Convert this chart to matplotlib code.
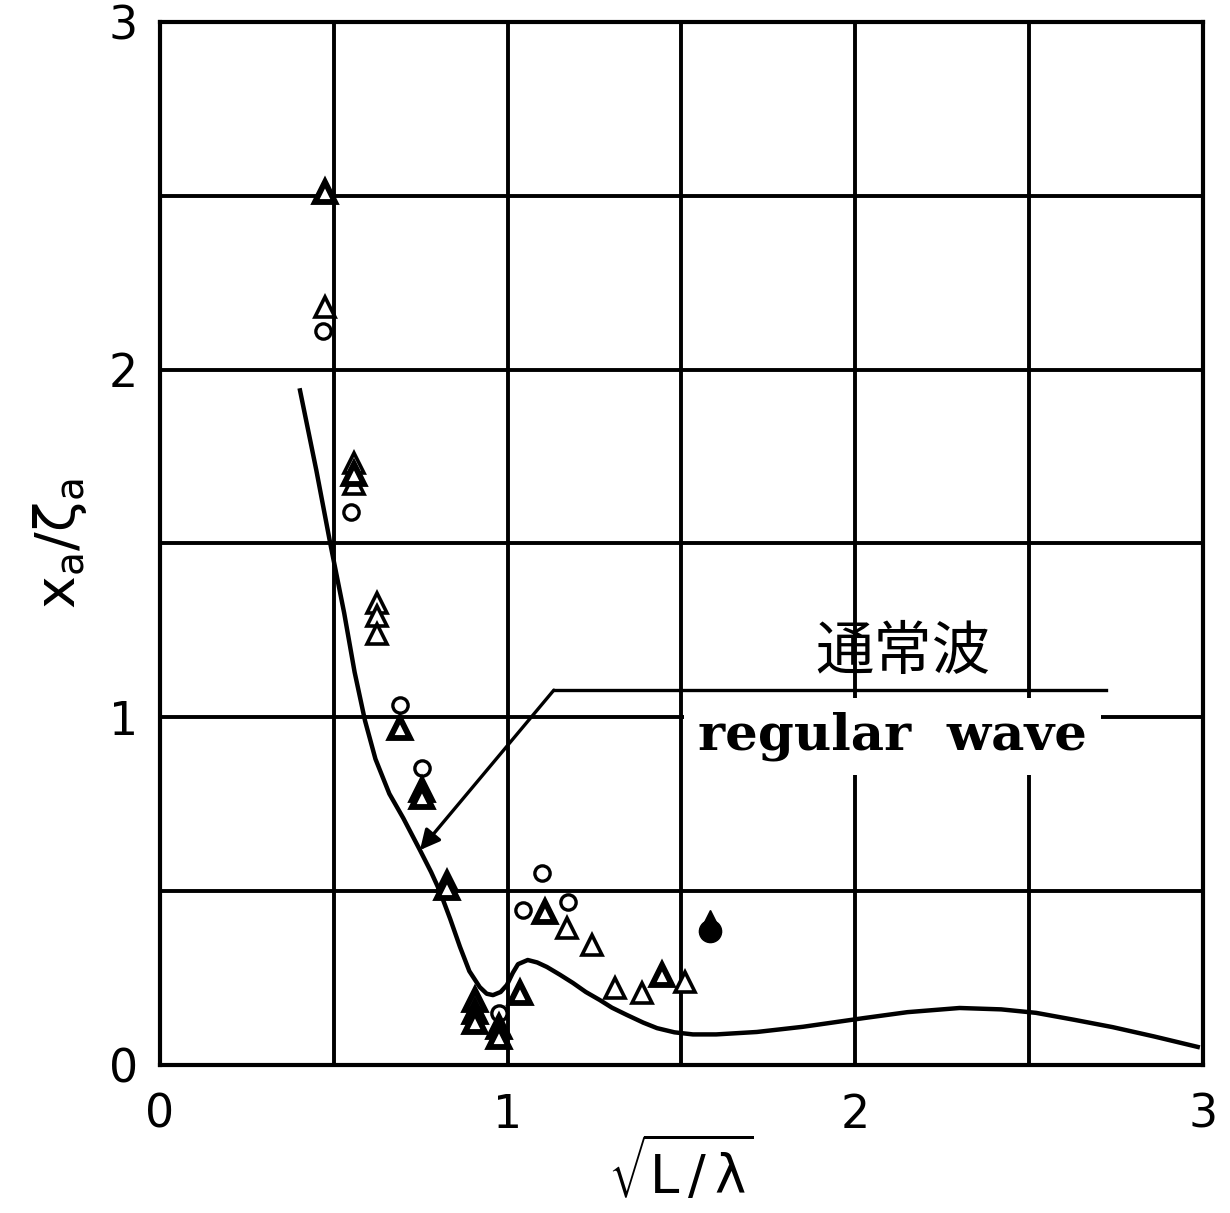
import matplotlib
matplotlib.use("Agg")
import matplotlib.pyplot as plt

# regular wave response curve
curve_x = [0.403, 0.45, 0.49, 0.53, 0.56, 0.59, 0.62, 0.66, 0.70, 0.748, 0.78, 0.805,
           0.835, 0.863, 0.89, 0.92, 0.94, 0.958, 0.98, 0.998, 1.015, 1.03, 1.058,
           1.085, 1.113, 1.15, 1.188, 1.225, 1.265, 1.30, 1.343, 1.39, 1.43, 1.48,
           1.533, 1.60, 1.717, 1.85, 2.025, 2.15, 2.30, 2.42, 2.52, 2.63, 2.74,
           2.86, 2.985]
curve_y = [1.94, 1.71, 1.50, 1.30, 1.13, 0.99, 0.88, 0.78, 0.71, 0.618, 0.555, 0.50,
           0.42, 0.34, 0.27, 0.224, 0.205, 0.201, 0.21, 0.23, 0.265, 0.29, 0.302,
           0.295, 0.282, 0.26, 0.236, 0.21, 0.187, 0.165, 0.144, 0.122, 0.106, 0.094,
           0.088, 0.088, 0.095, 0.11, 0.135, 0.152, 0.164, 0.16, 0.15, 0.13, 0.109,
           0.082, 0.052]

# measured points
circle_x = [0.47, 0.55, 0.69, 0.754, 0.975, 1.045, 1.10, 1.173]
circle_y = [2.11, 1.59, 1.035, 0.854, 0.15, 0.446, 0.552, 0.469]

tri_open_x = [0.475, 0.558, 0.558, 0.624, 0.624, 0.624, 0.825, 1.17, 1.242, 1.309, 1.386, 1.51]
tri_open_y = [2.18, 1.73, 1.67, 1.33, 1.29, 1.24, 0.53, 0.394, 0.345, 0.221, 0.207, 0.239]

tri_heavy_x = [0.475, 0.558, 0.69, 0.754, 0.754, 0.825, 0.906, 0.906, 0.906,
               0.975, 0.975, 1.035, 1.107, 1.444]
tri_heavy_y = [2.51, 1.70, 0.97, 0.79, 0.77, 0.51, 0.187, 0.152, 0.124,
               0.11, 0.08, 0.207, 0.44, 0.259]

solid_circle_x = [1.582]
solid_circle_y = [0.385]
solid_tri_x = [1.582]
solid_tri_y = [0.415]

x_ticks = [0, 1, 2, 3]
y_ticks = [0, 1, 2, 3]
grid_lines = [0.5, 1.0, 1.5, 2.0, 2.5]

plt.rcParams["mathtext.fontset"] = "dejavusans"

fig = plt.figure(figsize=(12.3, 12.13), dpi=100)
ax = fig.add_axes([0.130, 0.122, 0.848, 0.860])

for g in grid_lines:
    ax.axvline(g, color="black", lw=2.8, zorder=1)
    ax.axhline(g, color="black", lw=2.8, zorder=1)

ax.plot(curve_x, curve_y, color="black", lw=3.2, zorder=3)

ax.plot(circle_x, circle_y, "o", ms=11, mfc="white", mec="black", mew=2.4, zorder=4)
ax.plot(tri_open_x, tri_open_y, "^", ms=14, mfc="white", mec="black", mew=2.6, zorder=4)
ax.plot(tri_heavy_x, tri_heavy_y, "^", ms=14, mfc="white", mec="black", mew=4.2, zorder=4)
ax.plot(solid_circle_x, solid_circle_y, "o", ms=16, color="black", zorder=4)
ax.plot(solid_tri_x, solid_tri_y, "^", ms=16, color="black", zorder=4)

ax.set_xlim(0, 3)
ax.set_ylim(0, 3)
ax.set_xticks(x_ticks)
ax.set_yticks(y_ticks)
ax.tick_params(length=0, labelsize=33, pad=16)
ax.tick_params(axis="x", pad=20)
for s in ax.spines.values():
    s.set_linewidth(3.0)

ax.set_xlabel(r"$\sqrt{\mathrm{L\,/\,\lambda}}$", fontsize=38, labelpad=-2)
ax.set_ylabel(r"$\mathrm{x_a/\zeta_a}$", fontsize=40, labelpad=14)

ax.text(2.137, 1.185, "通常波", fontsize=42, family=["Noto Sans CJK JP", "DejaVu Sans"],
        ha="center", va="center", zorder=6)
ax.text(2.108, 0.945, "regular  wave", fontsize=37, fontweight="bold",
        family=["DejaVu Serif"], ha="center", va="center", zorder=6,
        bbox=dict(facecolor="white", edgecolor="none", pad=10))

# leader line with arrow to the curve
ax.plot([1.133, 2.72], [1.078, 1.078], color="black", lw=2.4, zorder=7)
ax.annotate("", xy=(0.748, 0.618), xytext=(1.133, 1.078),
            arrowprops=dict(arrowstyle="-|>", color="black", lw=2.4,
                            mutation_scale=30, shrinkA=0, shrinkB=0), zorder=7)

fig.savefig("out.png", dpi=100)
